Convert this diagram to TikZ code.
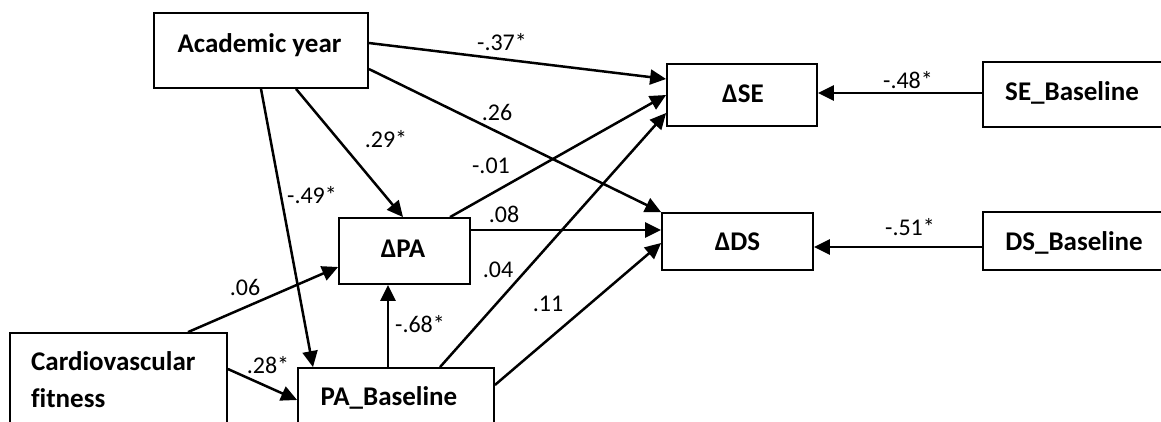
\documentclass[tikz,border=0pt]{standalone}
\usepackage{fontspec}
\setmainfont{Carlito}[Ligatures=NoCommon]
\usetikzlibrary{arrows.meta}
\begin{document}
\begin{tikzpicture}[x=1pt,y=-1pt,
  box/.style={draw, line width=1.8pt, inner sep=0pt},
  boxtext/.style={anchor=base, inner sep=0pt, font=\fontsize{27}{30}\selectfont\bfseries},
  lab/.style={anchor=base, inner sep=0pt, font=\fontsize{24}{26}\selectfont},
  arr/.style={line width=2.5pt, -{Triangle[length=16pt,width=15pt]}}]
\useasboundingbox (0,0) rectangle (1161,421);
\clip (0,0) rectangle (1161,421);
% boxes
\node[box, minimum width=214pt, minimum height=75pt] (ay) at (261,50.5) {};
\node[box, minimum width=150pt, minimum height=62pt] (dse) at (742,95) {};
\node[box, minimum width=197pt, minimum height=65pt] (seb) at (1081.5,94.5) {};
\node[box, minimum width=151pt, minimum height=57pt] (dds) at (737.5,241.5) {};
\node[box, minimum width=197pt, minimum height=58pt] (dsb) at (1081.5,241) {};
\node[box, minimum width=131pt, minimum height=66pt] (dpa) at (404.5,251) {};
\node[box, minimum width=217pt, minimum height=117pt] (cf) at (118.5,391.5) {};
\node[box, minimum width=196pt, minimum height=82pt] (pab) at (396,409) {};
% box texts
\node[boxtext] (tay) at (259.5,52) {Academic year};
\node[boxtext] (tdse) at (743,102) {ΔSE};
\node[boxtext] (tseb) at (1072,100) {SE\_Baseline};
\node[boxtext] (tdds) at (737.5,250) {ΔDS};
\node[boxtext] (tdsb) at (1074,250) {DS\_Baseline};
\node[boxtext] (tdpa) at (403,257) {ΔPA};
\node[boxtext, anchor=base west] (tcf1) at (31,370) {Cardiovascular};
\node[boxtext, anchor=base west] (tcf2) at (31,407) {fitness};
\node[boxtext] (tpab) at (389,405) {PA\_Baseline};
% connectors
\draw[arr] (ay.east |- 0,43) -- (dse.west |- 0,79);
\draw[arr] (ay.east |- 0,69) -- (dds.north west);
\draw[arr] (ay.south -| 296,0) -- (dpa.north -| 403,0);
\draw[arr] (ay.south -| 261,0) -- (pab.north -| 313,0);
\draw[arr] (cf.north -| 188,0) -- (dpa.west |- 0,267);
\draw[arr] (cf.east |- 0,369) -- (pab.west |- 0,400);
\draw[arr] (pab.north -| 388,0) -- (dpa.south -| 388,0);
\draw[arr] (dpa.north -| 450,0) -- (dse.west |- 0,95);
\draw[arr] (dpa.east |- 0,230) -- (dds.west |- 0,230);
\draw[arr] (pab.north -| 440,0) -- (dse.west |- 0,113);
\draw[arr] (pab.east |- 0,385) -- (dds.west |- 0,243);
\draw[arr] (seb.west |- 0,93) -- (dse.east |- 0,93);
\draw[arr] (dsb.west |- 0,247) -- (dds.east |- 0,247);
% labels
\node[lab] (l1) at (502,50) {-.37*};
\node[lab] (l2) at (497,120) {.26};
\node[lab] (l3) at (386,147) {.29*};
\node[lab] (l4) at (312,203) {-.49*};
\node[lab] (l5) at (491,173) {-.01};
\node[lab] (l6) at (504,222) {.08};
\node[lab] (l7) at (245,295) {.06};
\node[lab] (l8) at (268,373) {.28*};
\node[lab] (l9) at (420,332) {-.68*};
\node[lab] (l10) at (498,277) {.04};
\node[lab] (l11) at (548,311) {.11};
\node[lab] (l12) at (908,88) {-.48*};
\node[lab] (l13) at (910,235) {-.51*};
\end{tikzpicture}
\end{document}
